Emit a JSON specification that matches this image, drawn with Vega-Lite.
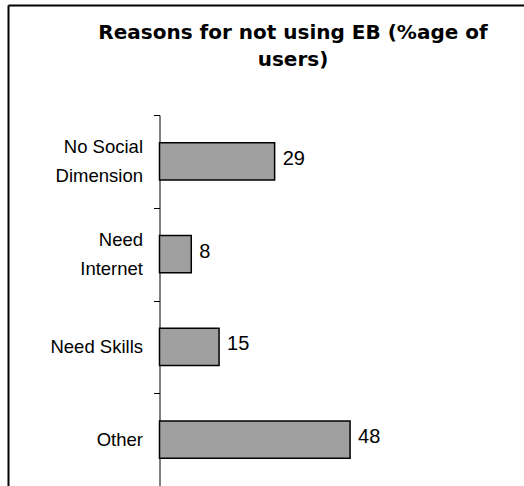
{
  "$schema": "https://vega.github.io/schema/vega-lite/v6.json",
  "width": 516,
  "height": 481,
  "autosize": {"type": "none"},
  "padding": {"left": 8, "top": 5, "right": 0, "bottom": 0},
  "background": "white",
  "title": {
    "text": ["Reasons for not using EB (%age of", "users)"],
    "font": "DejaVu Sans",
    "fontWeight": "bold",
    "fontSize": 20,
    "lineHeight": 27,
    "color": "black",
    "anchor": "middle",
    "dx": 27,
    "offset": -74
  },
  "config": {"view": {"stroke": null}},
  "data": {
    "values": [
      {"reason": "No Social|Dimension", "pct": 29},
      {"reason": "Need|Internet", "pct": 8},
      {"reason": "Need Skills", "pct": 15},
      {"reason": "Other", "pct": 48}
    ]
  },
  "layer": [
    {
      "mark": {"type": "bar", "fill": "#a0a0a0", "stroke": "black", "strokeWidth": 1.5, "height": {"band": 0.4}},
      "encoding": {
        "y": {
          "field": "reason",
          "type": "nominal",
          "sort": null,
          "scale": {"range": [110, 481], "paddingInner": 0, "paddingOuter": 0, "round": false},
          "axis": {
            "orient": "left",
            "offset": -151.5,
            "title": null,
            "grid": false,
            "domainColor": "black",
            "domainWidth": 1,
            "tickColor": "black",
            "tickWidth": 1,
            "tickSize": 6,
            "tickBand": "extent",
            "labelFont": "Liberation Sans",
            "labelFontSize": 18.5,
            "labelColor": "black",
            "labelPadding": 11,
            "labelLineHeight": 14.5,
            "labelOffset": -14.5,
            "labelLimit": 0,
            "labelExpr": "indexof(datum.label, '|') >= 0 ? [pad(split(datum.label, '|')[0], length(split(datum.label, '|')[0]) + floor(max(0, length(split(datum.label, '|')[1]) - length(split(datum.label, '|')[0])) / 2), '\u00a0', 'left') + '\u200b', '\u200b', split(datum.label, '|')[1]] : ['\u200b', datum.label, '\u200b']"
          }
        },
        "x": {
          "field": "pct",
          "type": "quantitative",
          "scale": {"domain": [-38.16, 91.81], "nice": false, "zero": false},
          "axis": {"orient": "top", "labels": false, "ticks": false, "title": null, "grid": false, "domainColor": "black", "domainWidth": 2}
        },
        "x2": {"datum": 0}
      }
    },
    {
      "mark": {"type": "text", "align": "left", "baseline": "alphabetic", "dx": 8, "dy": 3.5, "font": "Liberation Sans", "fontSize": 20, "color": "black"},
      "encoding": {
        "y": {
          "field": "reason",
          "type": "nominal",
          "sort": null,
          "scale": {"type": "band", "paddingInner": 0, "paddingOuter": 0.593, "align": 1, "round": false},
          "axis": {"orient": "left", "offset": 0, "labels": false, "ticks": false, "title": null, "grid": false, "domainColor": "black", "domainWidth": 2}
        },
        "x": {
          "field": "pct",
          "type": "quantitative",
          "axis": {"orient": "top", "labels": false, "ticks": false, "title": null, "grid": false, "domainColor": "black", "domainWidth": 2}
        },
        "text": {"field": "pct", "type": "quantitative"}
      }
    }
  ],
  "resolve": {"scale": {"y": "independent"}, "axis": {"y": "independent"}}
}
